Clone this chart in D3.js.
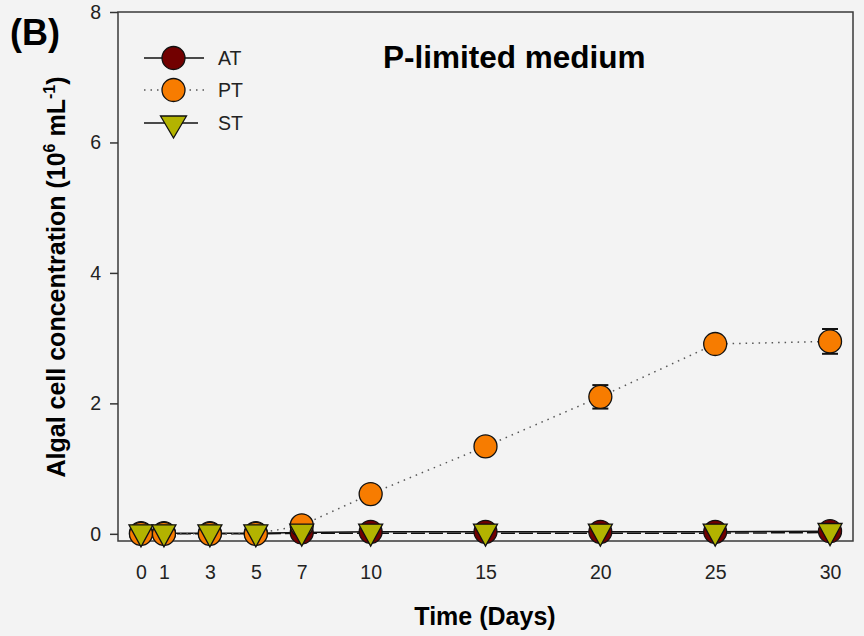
<!DOCTYPE html>
<html>
<head>
<meta charset="utf-8">
<script src="https://cdn.jsdelivr.net/npm/d3@7"></script>
<style>
  body { margin: 0; background: #f3f3f3; }
  svg { display: block; font-family: "Liberation Sans", Arial, sans-serif; }
</style>
</head>
<body>
<div id="chart"></div>
<script>
// data
var days = [0, 1, 3, 5, 7, 10, 15, 20, 25, 30];
var atValues = [0.01, 0.01, 0.01, 0.01, 0.02, 0.03, 0.03, 0.03, 0.03, 0.04];
var ptValues = [0.0, 0.0, 0.0, 0.0, 0.13, 0.61, 1.34, 2.10, 2.91, 2.95];
var ptErrors = [0, 0, 0, 0, 0.01, 0.01, 0.06, 0.18, 0.04, 0.19];
var stValues = [0.0, 0.0, 0.0, 0.0, 0.01, 0.01, 0.01, 0.01, 0.01, 0.02];
var xTicks = [0, 1, 3, 5, 7, 10, 15, 20, 25, 30];
var yTicks = [0, 2, 4, 6, 8];
var seriesNames = ["AT", "PT", "ST"];

var width = 864, height = 636;

var svg = d3.select("#chart")
            .append("svg")
            .attr("width", width)
            .attr("height", height);

var x = d3.scaleLinear().domain([-1, 31]).range([118, 853]);
var y = d3.scaleLinear().domain([-0.11, 8.0]).range([541, 12]);

// frame
svg.append("rect")
   .attr("x", x.range()[0])
   .attr("y", y.range()[1])
   .attr("width", x.range()[1] - x.range()[0])
   .attr("height", y.range()[0] - y.range()[1])
   .attr("fill", "none")
   .attr("stroke", "#3a3a3a")
   .attr("stroke-width", 1.5);

// y axis
var yAxis = svg.append("g")
               .attr("transform", "translate(118,0)")
               .call(d3.axisLeft(y).tickValues(yTicks).tickSize(8).tickPadding(9));
yAxis.select(".domain").remove();
yAxis.selectAll("line").attr("stroke", "#333").attr("stroke-width", 1.5);
yAxis.selectAll("text").attr("font-size", 19.5).attr("fill", "#222")
     .attr("font-family", "Liberation Sans, Arial, sans-serif");

// x axis (labels only, no ticks visible)
var xAxis = svg.append("g")
               .attr("transform", "translate(0,541)")
               .call(d3.axisBottom(x).tickValues(xTicks).tickSize(0).tickPadding(24));
xAxis.select(".domain").remove();
xAxis.selectAll("text").attr("font-size", 19.5).attr("fill", "#222")
     .attr("font-family", "Liberation Sans, Arial, sans-serif");

// axis titles
svg.append("text")
   .attr("x", 485).attr("y", 625)
   .attr("text-anchor", "middle")
   .attr("font-size", 25).attr("font-weight", "bold")
   .text("Time (Days)");

var ylab = svg.append("text")
   .attr("transform", "translate(65,277) rotate(-90)")
   .attr("text-anchor", "middle")
   .attr("font-size", 25).attr("font-weight", "bold");
ylab.append("tspan").text("Algal cell concentration (10");
ylab.append("tspan").attr("dy", -10).attr("font-size", 16).text("6");
ylab.append("tspan").attr("dy", 10).text(" mL");
ylab.append("tspan").attr("dy", -10).attr("font-size", 16).text("-1");
ylab.append("tspan").attr("dy", 10).text(")");

svg.append("text")
   .attr("x", 10).attr("y", 45)
   .attr("font-size", 36).attr("font-weight", "bold")
   .text("(B)");

svg.append("text")
   .attr("x", 383).attr("y", 68)
   .attr("font-size", 31.5).attr("font-weight", "bold")
   .text("P-limited medium");

var line = d3.line().x(d => x(d[0])).y(d => y(d[1]));
var triangle = "M-12,-9L12,-9L0,13Z";

function pairs(vals) {
    return days.map((d, i) => [d, vals[i]]);
}

// lines
svg.append("path").datum(pairs(stValues))
   .attr("d", line).attr("fill", "none")
   .attr("stroke", "#111").attr("stroke-width", 1.5)
   .attr("stroke-dasharray", "14,4");
svg.append("path").datum(pairs(atValues))
   .attr("d", line).attr("fill", "none")
   .attr("stroke", "#111").attr("stroke-width", 1.5);
svg.append("path").datum(pairs(ptValues))
   .attr("d", line).attr("fill", "none")
   .attr("stroke", "#555").attr("stroke-width", 1.5)
   .attr("stroke-dasharray", "1.5,5");

// PT error bars
var errG = svg.append("g");
pairs(ptValues).forEach(function(p, i) {
    var e = ptErrors[i];
    if (e <= 0) return;
    var cx = x(p[0]);
    errG.append("line").attr("x1", cx).attr("x2", cx)
        .attr("y1", y(p[1] - e)).attr("y2", y(p[1] + e))
        .attr("stroke", "#111").attr("stroke-width", 1.5);
    [p[1] - e, p[1] + e].forEach(function(v) {
        errG.append("line").attr("x1", cx - 8).attr("x2", cx + 8)
            .attr("y1", y(v)).attr("y2", y(v))
            .attr("stroke", "#111").attr("stroke-width", 2);
    });
});

// markers: AT under PT under ST
svg.append("g").selectAll("circle").data(pairs(atValues)).join("circle")
   .attr("cx", d => x(d[0])).attr("cy", d => y(d[1])).attr("r", 11.5)
   .attr("fill", "#720000").attr("stroke", "#111").attr("stroke-width", 1.3);
svg.append("g").selectAll("circle").data(pairs(ptValues)).join("circle")
   .attr("cx", d => x(d[0])).attr("cy", d => y(d[1])).attr("r", 11.5)
   .attr("fill", "#f77c00").attr("stroke", "#111").attr("stroke-width", 1.3);
svg.append("g").selectAll("path").data(pairs(stValues)).join("path")
   .attr("transform", d => `translate(${x(d[0])},${y(d[1])})`)
   .attr("d", triangle)
   .attr("fill", "#b3b300").attr("stroke", "#111").attr("stroke-width", 1.3);

// legend
var legend = svg.append("g");
var legY = [58, 90, 123];
var legStyle = [
    { dash: null, color: "#111", fill: "#720000", shape: "circle" },
    { dash: "1.5,5", color: "#555", fill: "#f77c00", shape: "circle" },
    { dash: null, color: "#111", fill: "#b3b300", shape: "tri" }
];
seriesNames.forEach(function(name, i) {
    var s = legStyle[i];
    var ly = legY[i];
    var x1 = 144, x2 = i == 2 ? 198 : 204;
    legend.append("line").attr("x1", x1).attr("x2", x2).attr("y1", ly).attr("y2", ly)
          .attr("stroke", s.color).attr("stroke-width", 1.5)
          .attr("stroke-dasharray", s.dash);
    if (s.shape == "circle") {
        legend.append("circle").attr("cx", 173.5).attr("cy", ly).attr("r", 11.5)
              .attr("fill", s.fill).attr("stroke", "#111").attr("stroke-width", 1.3);
    } else {
        legend.append("path").attr("transform", `translate(173.5,${ly + 1})`)
              .attr("d", "M-13,-8L13,-8L0,14Z")
              .attr("fill", s.fill).attr("stroke", "#111").attr("stroke-width", 1.3);
    }
    legend.append("text").attr("x", 218).attr("y", ly + 7)
          .attr("font-size", 19.5).attr("fill", "#222").text(name);
});
</script>
</body>
</html>
